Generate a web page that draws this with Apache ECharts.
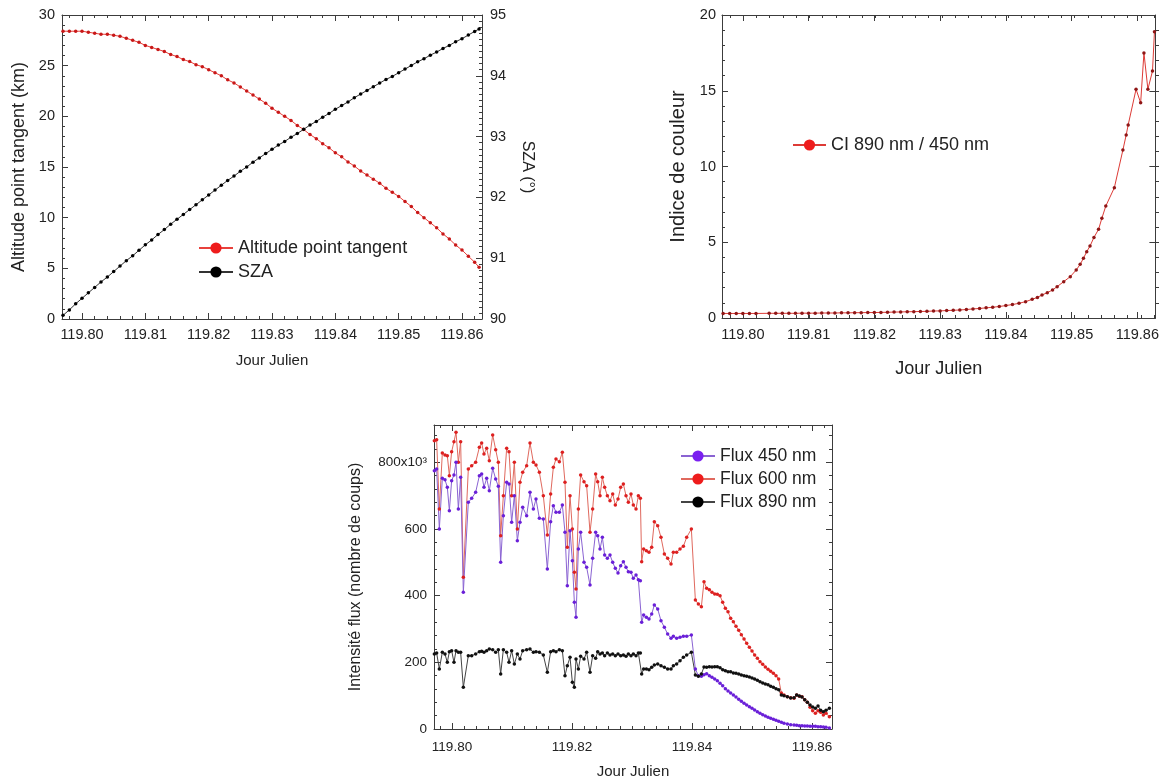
<!DOCTYPE html>
<html><head><meta charset="utf-8">
<script src="https://cdn.jsdelivr.net/npm/echarts@6/dist/echarts.min.js"></script>
<style>html,body{margin:0;padding:0;background:#fff}#c{width:1162px;height:781px}</style>
</head><body><div id="c"></div>
<script>
// ---------- DATA ----------
const altJJ = [119.797,119.798,119.799,119.800,119.801,119.802,119.803,119.804,119.805,119.806,
119.807,119.808,119.809,119.810,119.811,119.812,119.813,119.814,119.815,119.816,
119.817,119.818,119.819,119.820,119.821,119.822,119.823,119.824,119.825,119.826,
119.827,119.828,119.829,119.830,119.831,119.832,119.833,119.834,119.835,119.836,
119.837,119.838,119.839,119.840,119.841,119.842,119.843,119.844,119.845,119.846,
119.847,119.848,119.849,119.850,119.851,119.852,119.853,119.854,119.855,119.856,
119.857,119.858,119.859,119.860,119.861,119.862,119.8627];
const altitude = [28.4,28.4,28.4,28.4,28.3,28.2,28.1,28.1,28.0,27.9,
27.7,27.5,27.3,27.0,26.8,26.6,26.4,26.1,25.9,25.6,
25.4,25.1,24.9,24.6,24.3,24.0,23.6,23.3,22.9,22.5,
22.1,21.7,21.3,20.8,20.4,20.0,19.6,19.1,18.7,18.2,
17.8,17.3,16.9,16.4,16.0,15.5,15.1,14.6,14.2,13.8,
13.4,12.9,12.5,12.1,11.6,11.1,10.5,10.0,9.5,9.0,
8.4,7.9,7.3,6.8,6.2,5.6,5.1];
const sza = [90.06,90.15,90.25,90.34,90.43,90.52,90.61,90.69,90.78,90.87,
90.96,91.04,91.13,91.22,91.30,91.39,91.47,91.56,91.64,91.72,
91.80,91.88,91.96,92.04,92.12,92.20,92.28,92.35,92.43,92.50,
92.58,92.65,92.72,92.79,92.86,92.92,92.99,93.05,93.12,93.19,
93.25,93.32,93.38,93.45,93.51,93.57,93.64,93.70,93.76,93.82,
93.88,93.94,93.99,94.05,94.11,94.17,94.23,94.28,94.34,94.39,
94.45,94.50,94.56,94.61,94.67,94.73,94.77];

const ciJJ = [119.797,119.798,119.799,119.800,119.801,119.802,119.804,119.805,119.806,119.807,
119.808,119.809,119.810,119.811,119.812,119.813,119.814,119.815,119.816,119.817,
119.818,119.819,119.820,119.821,119.822,119.823,119.824,119.825,119.826,119.827,
119.828,119.829,119.830,119.831,119.832,119.833,119.834,119.835,119.836,119.837,
119.838,119.839,119.840,119.841,119.8420,119.8430,119.8440,119.8448,119.8455,119.8463,
119.8471,119.8478,119.8488,119.8498,119.8507,119.8513,119.8518,119.8523,119.8528,119.8534,
119.8541,119.8546,119.8552,119.8565,119.8578,119.8583,119.8586,119.8598,119.8605,119.8610,
119.8616,119.8623,119.8626];
const ci = [0.30,0.30,0.30,0.30,0.30,0.30,0.31,0.31,0.31,0.31,
0.31,0.32,0.32,0.32,0.33,0.33,0.33,0.34,0.34,0.35,
0.35,0.36,0.36,0.37,0.38,0.39,0.40,0.41,0.42,0.43,
0.44,0.46,0.47,0.49,0.51,0.53,0.56,0.60,0.63,0.67,
0.71,0.76,0.82,0.89,0.97,1.08,1.23,1.36,1.52,1.67,
1.85,2.07,2.40,2.73,3.17,3.54,3.94,4.38,4.75,5.32,
5.85,6.58,7.39,8.6,11.09,12.08,12.74,15.1,14.2,17.5,
15.1,16.3,18.9];

const fluxJJ = [119.79706,119.79744,119.79789,119.79839,119.79883,119.79922,119.79956,119.79994,119.80033,119.80067,
119.80106,119.80144,119.80189,119.80272,119.80328,119.80394,119.80456,119.80494,119.80533,119.80578,
119.80622,119.80678,119.80728,119.80772,119.80811,119.80856,119.80911,119.80950,119.80994,119.81039,
119.81089,119.81133,119.81178,119.81244,119.81300,119.81356,119.81400,119.81456,119.81522,119.81589,
119.81644,119.81689,119.81733,119.81789,119.81839,119.81883,119.81922,119.81967,119.82006,119.82039,
119.82067,119.82106,119.82144,119.82200,119.82244,119.82300,119.82344,119.82394,119.82428,119.82467,
119.82506,119.82544,119.82589,119.82633,119.82678,119.82722,119.82767,119.82811,119.82856,119.82900,
119.82939,119.82983,119.83022,119.83067,119.83106,119.83139,119.83161,119.83194,119.83239,119.83283,
119.83328,119.83372,119.83428,119.83483,119.83539,119.83594,119.83650,119.83689,119.83744,119.83800,
119.83856,119.83911,119.83989,119.84056,119.84106,119.84156,119.84200,119.84244,119.84289,119.84333,
119.84378,119.84422,119.84467,119.84511,119.84556,119.84600,119.84644,119.84689,119.84733,119.84778,
119.84822,119.84867,119.84911,119.84956,119.85000,119.85044,119.85089,119.85133,119.85178,119.85222,
119.85267,119.85311,119.85356,119.85400,119.85444,119.85489,119.85533,119.85589,119.85644,119.85700,
119.85744,119.85789,119.85833,119.85878,119.85922,119.85967,119.86011,119.86056,119.86100,119.86144,
119.86189,119.86233,119.86289];
// flux values in units of 10^3 counts
const flux600 = [865,868,660,828,822,820,760,832,862,890,
800,862,455,780,790,800,845,858,825,842,
805,882,838,800,580,700,842,832,700,800,
600,740,770,790,858,800,792,770,700,582,
705,785,810,802,830,740,545,700,600,470,
420,660,762,742,730,590,660,765,742,700,
755,725,700,685,705,672,690,725,735,700,
680,705,672,660,700,692,502,540,535,530,
545,622,610,575,525,512,495,530,530,540,
548,575,600,387,375,367,442,422,418,410,
405,404,400,380,362,352,332,322,308,296,
283,270,257,245,234,222,212,202,194,186,
179,173,167,160,150,108,102,97,94,92,
102,98,97,88,80,65,55,47,55,50,
42,47,37];
const flux450 = [775,780,600,752,748,725,655,745,762,800,
660,755,410,680,692,710,760,765,725,752,
715,782,750,728,500,640,740,735,620,700,
565,620,665,640,710,660,690,632,630,480,
622,670,650,650,672,590,430,595,505,380,
335,540,590,500,485,432,512,590,580,540,
575,522,512,522,500,482,468,490,502,485,
472,470,452,462,448,445,320,342,335,330,
345,372,360,325,305,285,272,278,272,275,
278,278,282,180,160,158,163,166,160,155,
150,145,137,130,121,114,108,102,96,89,
83,77,72,67,62,57,52,47,43,39,
35,32,29,26,23,20,17,15,13,12,
11,10,10,9,9,8,8,8,7,7,
6,5,3];
const flux890 = [225,228,180,230,225,200,232,235,200,235,
230,230,125,220,220,225,232,233,230,235,
240,238,230,238,165,238,230,200,235,195,
225,210,235,238,240,230,232,230,222,170,
232,235,232,238,235,160,190,215,140,125,
210,180,218,210,230,170,220,212,232,225,
228,220,228,222,225,220,225,220,222,218,
225,220,225,220,228,228,165,180,180,178,
185,192,195,190,185,180,180,190,195,205,
215,222,230,162,158,165,186,185,187,186,
187,187,184,178,175,172,172,168,167,165,
162,160,158,156,153,150,146,142,138,135,
133,128,125,121,118,102,100,97,93,94,
102,99,96,88,80,72,66,62,69,56,
52,56,62];

// tick labels
const jjTicksTop = [119.80,119.81,119.82,119.83,119.84,119.85,119.86];
const jjTicksBottom = [119.80,119.82,119.84,119.86];
const altTicks = [0,5,10,15,20,25,30];
const szaTicks = [90,91,92,93,94,95];
const ciTicks = [0,5,10,15,20];
const fluxTicks = [0,200,400,600,800];
const fluxTickLabels = ['0','200','400','600','800x10³'];

// ---------- CHART ----------
function rng(a,b,s){const r=[];for(let i=0;a+i*s<=b+1e-9;i++)r.push(+(a+i*s).toFixed(6));return r;}
const zip=(xs,ys)=>xs.map((x,i)=>[x,ys[i]]);
const FONT='"Liberation Sans", Arial, sans-serif';
const AX='#3c3c3c', TXT='#222';

const G=[
 {left:62,top:15,width:420,height:304},
 {left:722,top:15,width:437,height:303},
 {left:434,top:425,width:398,height:304}
];
const XR=[[119.79684,119.86316],[119.79683,119.86274],[119.79700,119.86333]];

function ax(grid,pos,min,max,ticks,len,opt){
  opt=opt||{};
  const a={type:'value',gridIndex:grid,position:pos,min:min,max:max,
    axisLine:{show:!opt.noLine,onZero:false,lineStyle:{color:AX,width:1}},
    axisTick:{show:true,inside:true,length:len,customValues:ticks,lineStyle:{color:AX,width:1}},
    axisLabel:{show:false},splitLine:{show:false},minorTick:{show:false}};
  if(opt.labels){a.axisLabel={show:true,customValues:ticks,formatter:opt.fmt,fontSize:opt.fs,color:TXT,fontFamily:FONT,margin:opt.margin};}
  if(opt.name){a.name=opt.name;a.nameLocation='middle';a.nameGap=opt.nameGap;
    a.nameTextStyle={fontSize:opt.nfs,color:TXT,fontFamily:FONT};
    if(opt.nameRotate!==undefined)a.nameRotate=opt.nameRotate;}
  return a;
}
const fx2=v=>v.toFixed(2);

const xAxis=[
 ax(0,'bottom',XR[0][0],XR[0][1],jjTicksTop,6,{labels:true,fmt:fx2,fs:14.5,margin:8,name:'Jour Julien',nameGap:34,nfs:15}),
 ax(0,'top',XR[0][0],XR[0][1],jjTicksTop,6),
 ax(1,'bottom',XR[1][0],XR[1][1],jjTicksTop,6,{labels:true,fmt:fx2,fs:14.5,margin:9,name:'Jour Julien',nameGap:42,nfs:18}),
 ax(1,'top',XR[1][0],XR[1][1],jjTicksTop,6),
 ax(2,'bottom',XR[2][0],XR[2][1],jjTicksBottom,6,{labels:true,fmt:fx2,fs:13.5,margin:11,name:'Jour Julien',nameGap:35,nfs:15}),
 ax(2,'top',XR[2][0],XR[2][1],jjTicksBottom,6),
 ax(3,'bottom',XR[0][0],XR[0][1],rng(119.798,119.862,0.002),3,{noLine:true}),
 ax(3,'top',XR[0][0],XR[0][1],rng(119.798,119.862,0.002),3,{noLine:true}),
 ax(4,'bottom',XR[1][0],XR[1][1],rng(119.798,119.862,0.002),3,{noLine:true}),
 ax(4,'top',XR[1][0],XR[1][1],rng(119.798,119.862,0.002),3,{noLine:true}),
 ax(5,'bottom',XR[2][0],XR[2][1],rng(119.798,119.862,0.002),3,{noLine:true}),
 ax(5,'top',XR[2][0],XR[2][1],rng(119.798,119.862,0.002),3,{noLine:true})
];
const yAxis=[
 ax(0,'left',0,30,altTicks,6,{labels:true,fmt:v=>String(v),fs:14.5,margin:7,name:'Altitude point tangent (km)',nameGap:34,nfs:18}),
 ax(0,'right',90,95,szaTicks,6,{labels:true,fmt:v=>String(v),fs:14.5,margin:8,name:'SZA (°)',nameGap:37,nfs:16,nameRotate:-90}),
 ax(1,'left',0,20,ciTicks,6,{labels:true,fmt:v=>String(v),fs:14.5,margin:6,name:'Indice de couleur',nameGap:34,nfs:20}),
 ax(1,'right',0,20,ciTicks,6),
 ax(2,'left',0,912,fluxTicks,6,{labels:true,fmt:v=>fluxTickLabels[fluxTicks.indexOf(v)],fs:13.5,margin:7,name:'Intensité flux (nombre de coups)',nameGap:70,nfs:16}),
 ax(2,'right',0,912,fluxTicks,6),
 ax(3,'left',0,30,rng(1,29,1),3,{noLine:true}),
 ax(3,'right',90,95,rng(90.1,94.9,0.1),3,{noLine:true}),
 ax(4,'left',0,20,rng(1,19,1),3,{noLine:true}),
 ax(4,'right',0,20,rng(1,19,1),3,{noLine:true}),
 ax(5,'left',0,912,rng(40,880,40),3,{noLine:true}),
 ax(5,'right',0,912,rng(40,880,40),3,{noLine:true})
];

function ser(name,xi,yi,data,line,mark,size){
  return {type:'line',name:name,xAxisIndex:xi,yAxisIndex:yi,data:data,symbol:'circle',symbolSize:size,
    showSymbol:true,showAllSymbol:true,lineStyle:{color:line,width:1},itemStyle:{color:mark},
    emphasis:{disabled:true},animation:false};
}
const series=[
 ser('Altitude point tangent',0,0,zip(altJJ,altitude),'#e8413c','#c81818',3.5),
 ser('SZA',0,1,zip(altJJ,sza),'#333','#000',3.5),
 ser('CI 890 nm / 450 nm',2,2,zip(ciJJ,ci),'#dd3b36','#8f1616',3.5),
 ser('Flux 600 nm',4,4,zip(fluxJJ,flux600),'#e0695e','#dd2020',3.5),
 ser('Flux 450 nm',4,4,zip(fluxJJ,flux450),'#8a63d2','#6a1fd8',3.5),
 ser('Flux 890 nm',4,4,zip(fluxJJ,flux890),'#444','#111',3.5)
];
const legend=[
 {data:[{name:'Altitude point tangent',itemStyle:{color:'#ee1c1c'}},{name:'SZA',itemStyle:{color:'#000'}}],
  orient:'vertical',left:193,top:234,itemWidth:34,itemHeight:14,itemGap:6,selectedMode:false,
  textStyle:{fontSize:18,color:TXT,fontFamily:FONT}},
 {data:[{name:'CI 890 nm / 450 nm',itemStyle:{color:'#ee1c1c'}}],left:787,top:131,itemWidth:33,itemHeight:14,selectedMode:false,
  textStyle:{fontSize:18,color:TXT,fontFamily:FONT}},
 {data:[{name:'Flux 450 nm',itemStyle:{color:'#7a1ff0'}},{name:'Flux 600 nm',itemStyle:{color:'#ee1c1c'}},{name:'Flux 890 nm',itemStyle:{color:'#000'}}],
  orient:'vertical',left:675,top:442,itemWidth:34,itemHeight:14,itemGap:5,selectedMode:false,
  textStyle:{fontSize:17.5,color:TXT,fontFamily:FONT}}
];

const chart=echarts.init(document.getElementById('c'),null,{renderer:'canvas'});
chart.setOption({animation:false,backgroundColor:'#fff',grid:G.concat(G),xAxis:xAxis,yAxis:yAxis,series:series,legend:legend});
</script></body></html>
